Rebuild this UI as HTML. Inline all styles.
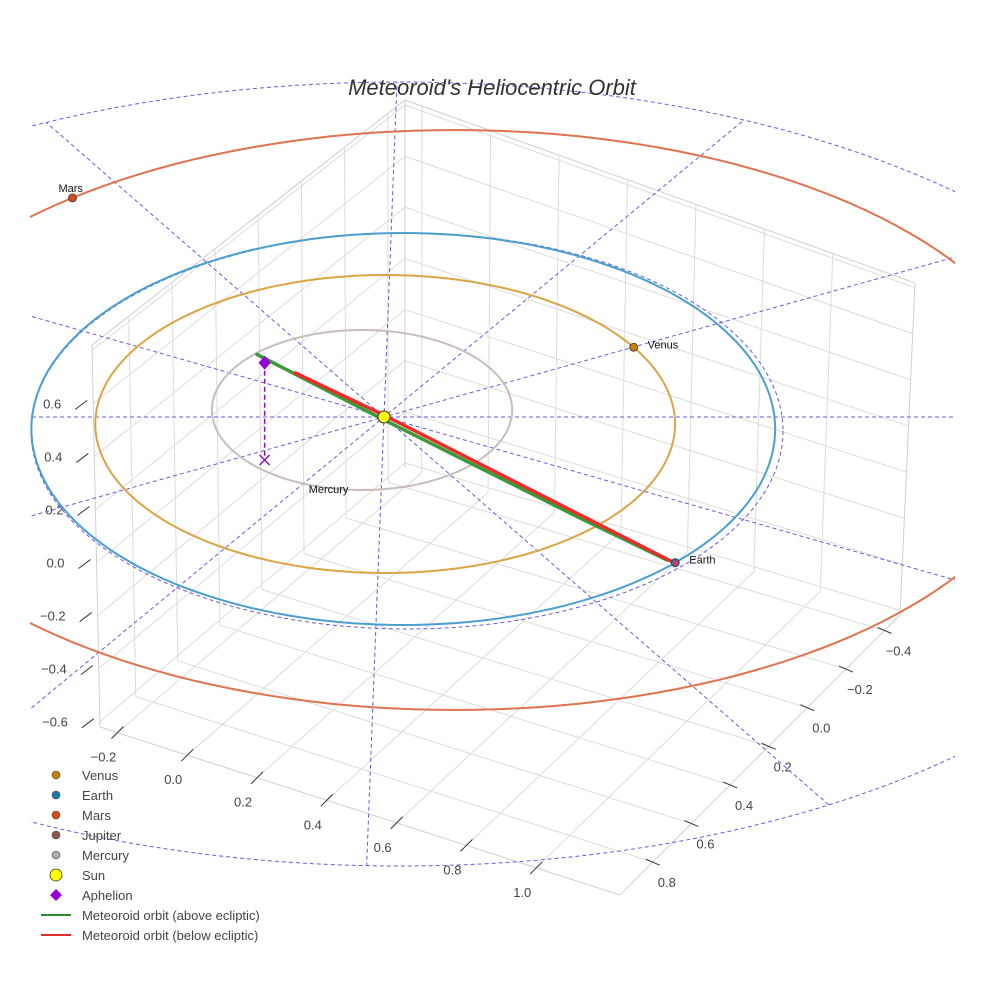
<!DOCTYPE html>
<html><head><meta charset="utf-8">
<style>
html,body{margin:0;padding:0;background:#fff;overflow:hidden;width:984px;height:984px;}
svg{display:block;font-family:"Liberation Sans",sans-serif;overflow:hidden;}
</style></head>
<body>
<svg id="chart" width="984" height="984" viewBox="0 0 984 984" xmlns="http://www.w3.org/2000/svg">
<rect width="984" height="984" fill="#fff"/>
<defs>
<clipPath id="clip"><rect x="30" y="60" width="925" height="880"/></clipPath>
<clipPath id="eclip"><ellipse cx="400" cy="474" rx="800" ry="392"/></clipPath>
</defs>
<g id="grid"></g>
<g clip-path="url(#clip)"><g id="guides" clip-path="url(#eclip)"></g></g>
<g id="rings" clip-path="url(#clip)"></g>
<g id="orbits" clip-path="url(#clip)"></g>
<g id="marks"></g>
<text x="492" y="95" text-anchor="middle" font-size="22" font-style="italic" fill="#333">Meteoroid's Heliocentric Orbit</text>
<g id="legend"></g>
</svg>
<script>
// ---- data ----
const xTicks = [-0.2, 0.0, 0.2, 0.4, 0.6, 0.8, 1.0];
const yTicks = [-0.4, -0.2, 0.0, 0.2, 0.4, 0.6, 0.8];
const zTicks = [-0.6, -0.4, -0.2, 0.0, 0.2, 0.4, 0.6];
const xRange = [-0.25, 1.24];
const yRange = [-0.48, 0.97];
const zRange = [-0.62, 0.82];
const planetNames = ["Mercury", "Venus", "Earth", "Mars"];
const orbitA = [0.39, 0.753, 0.966, 1.545];
const orbitB = [0.40, 0.745, 0.98, 1.45];
const orbitShiftX = [-0.057, 0.003, 0.05, 0.184];
const orbitShiftY = [-0.035, 0.035, 0.06, 0.015];
const planetAngle = [-110, 31, -43, 130];
const greenOrbit = [[-0.33, 0.2, 0.38], [0.0, 0.36, 0.256], [0.509, 0.505, 0.0], [0.735, 0.715, 0.0]];
const redOrbit = [[-0.23, 0.05, 0.2], [0.0, 0.2, 0.155], [0.75, 0.725, 0.0]];
const aphelion = [-0.31, 0.215, 0.36];
const guideDirX = [1, -30, 344, 366, 571, 571];
const guideDirY = [0, 775, 300, -302, -160, 163];

const NS = "http://www.w3.org/2000/svg";
function mk(tag, attrs, parent){const e=document.createElementNS(NS,tag);for(const k in attrs)e.setAttribute(k,attrs[k]);parent.appendChild(e);return e;}

const F3=[405,468],F2=[900,615],F0=[100,727],F1=[620,895];
const T3=[405,100],T2=[915,283],T0=[92,345],T1=[625,470];
function lerp(a,b,t){return [a[0]+(b[0]-a[0])*t,a[1]+(b[1]-a[1])*t];}
function P(x,y,z){
  const u=(x-xRange[0])/(xRange[1]-xRange[0]);
  const v=(y-yRange[0])/(yRange[1]-yRange[0]);
  const w=(z-zRange[0])/(zRange[1]-zRange[0]);
  const fb=lerp(lerp(F3,F0,v),lerp(F2,F1,v),u);
  const tp=lerp(lerp(T3,T0,v),lerp(T2,T1,v),u);
  return lerp(fb,tp,w);
}
function E(X,Y,Z){return [384+385*X, 417+200*Y-270*(Z||0)];}

const grid=document.getElementById('grid');
function gl(a,b,col,wd){const l=mk('line',{x1:a[0],y1:a[1],x2:b[0],y2:b[1],stroke:col,'stroke-width':wd||1},grid);return l;}
const gc="#dcdcdc";
xTicks.forEach(x=>{const l=gl(P(x,yRange[0],zRange[0]),P(x,yRange[1],zRange[0]),gc);

});
yTicks.forEach(y=>{const l=gl(P(xRange[0],y,zRange[0]),P(xRange[1],y,zRange[0]),gc);

});
yTicks.forEach(y=>{const l=gl(P(xRange[0],y,zRange[0]),P(xRange[0],y,zRange[1]),gc);

});
zTicks.concat([0.8]).forEach(z=>{const l=gl(P(xRange[0],yRange[0],z),P(xRange[0],yRange[1],z),gc);

});
xTicks.forEach(x=>{const l=gl(P(x,yRange[0],zRange[0]),P(x,yRange[0],zRange[1]),gc);

});
zTicks.concat([0.8]).forEach(z=>{const l=gl(P(xRange[0],yRange[0],z),P(xRange[1],yRange[0],z),gc);

});
[[P(xRange[0],yRange[1],zRange[0]),P(xRange[1],yRange[1],zRange[0])],
 [P(xRange[1],yRange[0],zRange[0]),P(xRange[1],yRange[1],zRange[0])],
 [P(xRange[0],yRange[1],zRange[0]),P(xRange[0],yRange[1],zRange[1])],
 [P(xRange[0],yRange[0],zRange[1]),P(xRange[0],yRange[1],zRange[1])],
 [P(xRange[0],yRange[0],zRange[1]),P(xRange[1],yRange[0],zRange[1])],
 [P(xRange[1],yRange[0],zRange[0]),P(xRange[1],yRange[0],zRange[1])],
 [P(xRange[0],yRange[0],zRange[0]),P(xRange[0],yRange[0],zRange[1])]].forEach(e=>{
 const l=gl(e[0],e[1],"#cfcfcf");
 
 });

function lbl(p,txt,anchor,name){const t=mk('text',{x:p[0],y:p[1],'font-size':13,fill:'#444','text-anchor':anchor},grid);t.textContent=txt;

}
function fmt(v){return (v<0?"\u2212":"")+Math.abs(v).toFixed(1);}
xTicks.forEach(x=>{const p=P(x,yRange[1],zRange[0]);gl([p[0]-6,p[1]+6],[p[0]+6,p[1]-6],"#333");lbl([p[0]-14,p[1]+29],fmt(x),'middle','x-tick-label');});
yTicks.forEach(y=>{const p=P(xRange[1],y,zRange[0]);gl([p[0]-7,p[1]-3],[p[0]+7,p[1]+3],"#333");lbl([p[0]+14,p[1]+25],fmt(y),'middle','y-tick-label');});
zTicks.forEach(z=>{const p=P(xRange[0],yRange[1],z);gl([p[0]-18,p[1]+6],[p[0]-6,p[1]-3],"#333");lbl([p[0]-32,p[1]+5],fmt(z),'end','z-tick-label');});

const guides=document.getElementById('guides');
const sun=E(0,0,0);
guideDirX.forEach((dx,i)=>{const dy=guideDirY[i];const n=Math.hypot(dx,dy);const L=1500;
 const ux=dx/n, uy=dy/n;
 const l=mk('line',{x1:sun[0]-ux*L,y1:sun[1]-uy*L,x2:sun[0]+ux*L,y2:sun[1]+uy*L,stroke:'#6a5ae0','stroke-width':1,'stroke-dasharray':'4,3'},guides);
 
 });
const rings=document.getElementById('rings');
const g1=mk('ellipse',{cx:400,cy:474,rx:800,ry:392,fill:'none',stroke:'#6a5ae0','stroke-width':1,'stroke-dasharray':'4,3'},rings);


const g2=mk('ellipse',{cx:407,cy:431,rx:376,ry:198,fill:'none',stroke:'#6a5ae0','stroke-width':1,'stroke-dasharray':'4,3'},rings);



const orbitColors=["#c9bdbb","#d9a545","#4a9fcf","#e0734f"];
const dotColors=["#b3a9a9","#c87f0a","#1f77b4","#d34c14"];
const orbitsG=document.getElementById('orbits');
planetNames.forEach((n,i)=>{let d="";for(let k=0;k<=180;k++){const t=k/180*2*Math.PI;const p=E(orbitShiftX[i]+orbitA[i]*Math.cos(t),orbitShiftY[i]-orbitB[i]*Math.sin(t));d+=(k?"L":"M")+p[0].toFixed(1)+","+p[1].toFixed(1);}
 const o=mk('path',{d:d,fill:'none',stroke:orbitColors[i],'stroke-width':2},orbitsG);
 
 });

const marks=document.getElementById('marks');
function poly(pts,col,w,name){const d=pts.map((q,i)=>{const p=E(q[0],q[1],q[2]);return (i?"L":"M")+p[0]+","+p[1];}).join("");
 const e=mk('path',{d:d,fill:'none',stroke:col,'stroke-width':w,'stroke-linecap':'round','stroke-linejoin':'round'},marks);
 
 }
poly(greenOrbit,"#3a9a3a",3.5,'meteoroid-orbit-above');
poly(redOrbit,"#ee2a2a",3.5,'meteoroid-orbit-below');

const ap=E(aphelion[0],aphelion[1],aphelion[2]), ab=E(aphelion[0],aphelion[1],0);
const dl=mk('line',{x1:ap[0],y1:ap[1],x2:ab[0],y2:ab[1],stroke:'#8a10c8','stroke-width':1.5,'stroke-dasharray':'5,3'},marks);


const xm=mk('path',{d:`M${ab[0]-5},${ab[1]-5}L${ab[0]+5},${ab[1]+5}M${ab[0]-5},${ab[1]+5}L${ab[0]+5},${ab[1]-5}`,stroke:'#8a10c8','stroke-width':1.5},marks);


const dm=mk('path',{d:`M${ap[0]},${ap[1]-7}L${ap[0]+6},${ap[1]}L${ap[0]},${ap[1]+7}L${ap[0]-6},${ap[1]}Z`,fill:'#9400d3'},marks);



planetNames.forEach((n,i)=>{const t=planetAngle[i]*Math.PI/180;const p=E(orbitShiftX[i]+orbitA[i]*Math.cos(t),orbitShiftY[i]-orbitB[i]*Math.sin(t));
 if(n!=="Mercury"){
 const c=mk('circle',{cx:p[0],cy:p[1],r:4,fill:dotColors[i],stroke:'#333','stroke-width':0.8},marks);
 
 }
 const off = n==="Mars"?[-14,-10]:(n==="Mercury"?[-2,4]:[14,-3]);
 const tx=mk('text',{x:p[0]+off[0],y:p[1]+off[1]+4,'font-size':11,fill:'#111'},marks);tx.textContent=n;
 
 });
const em=E(redOrbit[2][0],redOrbit[2][1],0);
const mt=mk('circle',{cx:em[0]+3,cy:em[1]+1,r:2.5,fill:'#ee3355'},marks);


const sc=mk('circle',{cx:sun[0],cy:sun[1],r:6,fill:'#ffff00',stroke:'#333','stroke-width':1},marks);



const legend=document.getElementById('legend');
const legNames=["Venus","Earth","Mars","Jupiter","Mercury","Sun","Aphelion","Meteoroid orbit (above ecliptic)","Meteoroid orbit (below ecliptic)"];
const legColors=["#c87f0a","#1f77b4","#d34c14","#8c564b","#b3a9a9","#ffff00","#9400d3","#2a8a2a","#e02a2a"];
legNames.forEach((n,i)=>{const y=775+i*20;let m;
 if(i<5) m=mk('circle',{cx:56,cy:y,r:4,fill:legColors[i],stroke:'#444','stroke-width':0.6},legend);
 else if(i===5) m=mk('circle',{cx:56,cy:y,r:6,fill:legColors[i],stroke:'#333','stroke-width':0.8},legend);
 else if(i===6) m=mk('path',{d:`M56,${y-6}L62,${y}L56,${y+6}L50,${y}Z`,fill:legColors[i]},legend);
 else m=mk('line',{x1:41,y1:y,x2:71,y2:y,stroke:legColors[i],'stroke-width':2},legend);
 
 
 const t=mk('text',{x:82,y:y+5,'font-size':13,fill:'#444'},legend);t.textContent=n;
 
 });
</script>
</body></html>
